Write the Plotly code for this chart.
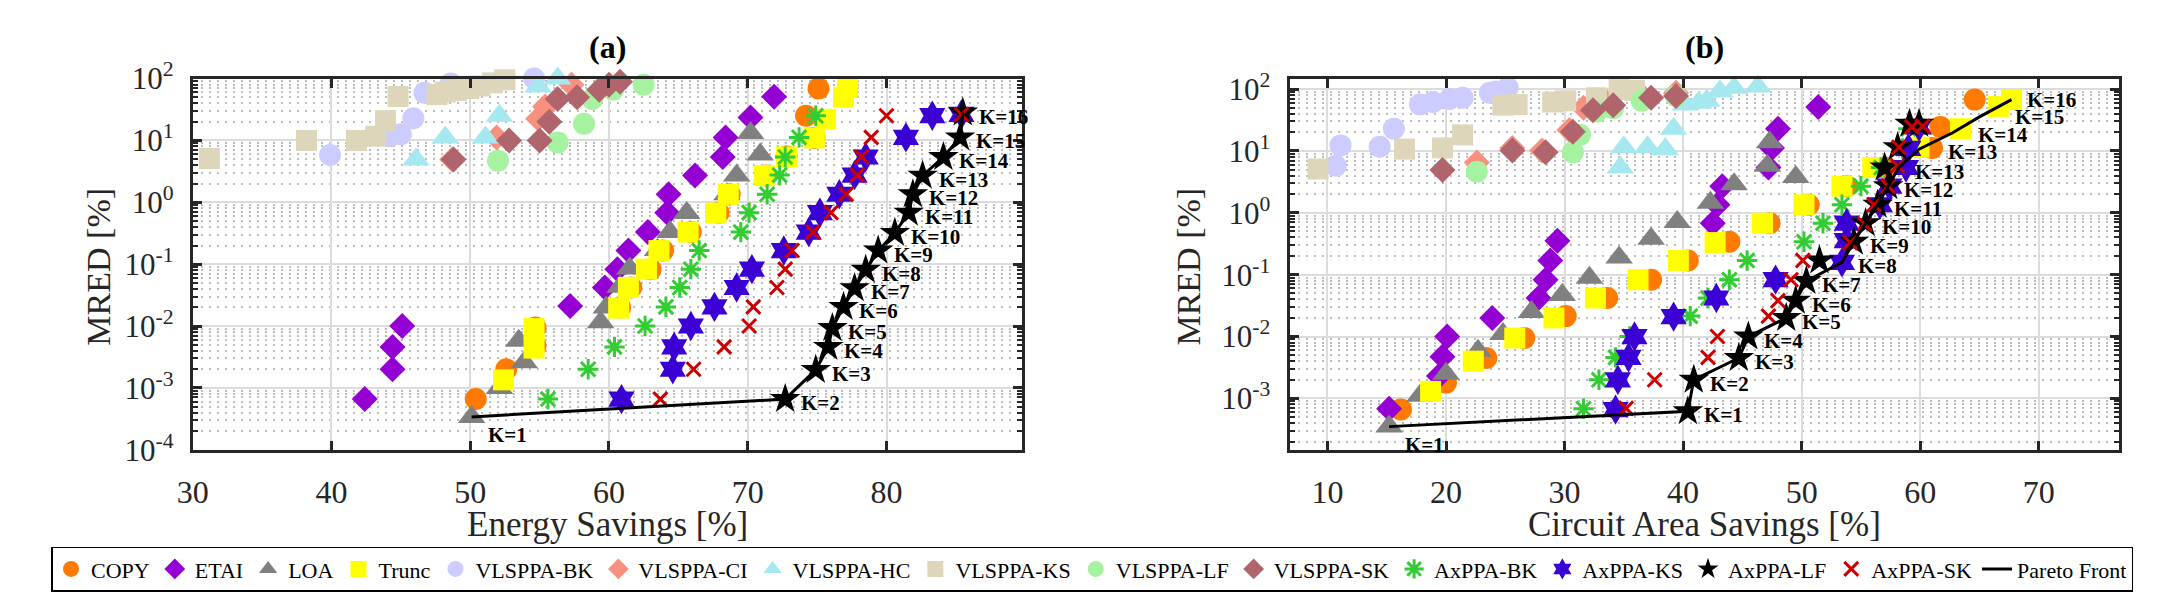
import numpy as np
import plotly.graph_objects as go

# ================= DATA : panel (a)  Energy Savings [%] vs MRED [%] =================
COPY_a_x = [50.4, 52.6, 54.7, 54.7, 60.8, 61.6, 63.0, 63.9, 65.9, 67.9, 68.7, 71.3, 72.8, 74.8, 74.2, 75.1]
COPY_a_y = [6.6e-4, 2.0e-3, 4.8e-3, 9.5e-3, 0.020, 0.042, 0.083, 0.166, 0.33, 0.68, 1.35, 2.7, 5.5, 11.0, 25.0, 69.0]
ETAI_a_x = [42.4, 44.4, 44.4, 45.1, 57.2, 59.7, 60.6, 61.4, 62.8, 64.2, 64.3, 66.2, 68.2, 68.4, 70.2, 71.9]
ETAI_a_y = [6.6e-4, 2.0e-3, 4.6e-3, 0.010, 0.021, 0.042, 0.083, 0.166, 0.33, 0.68, 1.35, 2.7, 5.4, 11.2, 23.4, 51.0]
LOA_a_x = [50.1, 52.1, 53.9, 53.5, 59.4, 59.8, 60.8, 61.5, 63.5, 64.4, 65.6, 68.5, 69.2, 70.9, 70.2]
LOA_a_y = [3.4e-4, 1.0e-3, 2.6e-3, 5.8e-3, 0.0115, 0.020, 0.043, 0.085, 0.17, 0.33, 0.67, 1.35, 2.7, 5.9, 13.2]
TRUNC_a_x = [52.4, 54.6, 54.6, 60.7, 61.4, 62.7, 63.6, 65.7, 67.7, 68.6, 71.2, 72.8, 74.8, 75.6, 76.9, 77.2]
TRUNC_a_y = [1.35e-3, 4.4e-3, 9.1e-3, 0.0195, 0.042, 0.083, 0.166, 0.33, 0.67, 1.35, 2.7, 5.4, 11.0, 22.0, 50.0, 73.0]
VBK_a_x = [39.9, 44.2, 45.0, 45.9, 46.7, 48.6, 52.1, 54.6]
VBK_a_y = [5.8, 11.7, 12.6, 22.9, 58.9, 83.2, 112.0, 100.0]
VCI_a_x = [48.7, 51.9, 54.9, 55.4, 57.3, 59.9, 62.0]
VCI_a_y = [4.9, 11.2, 22.4, 35.5, 79.4, 112.0, 104.7]
VHC_a_x = [46.1, 48.2, 51.1, 52.1, 54.9, 56.3, 59.9, 63.3]
VHC_a_y = [4.9, 11.2, 11.2, 25.1, 74.1, 100.0, 104.7, 104.7]
VKS_a_x = [31.2, 38.2, 41.8, 43.2, 43.9, 44.8, 47.6, 48.2, 49.0, 49.9, 50.7, 51.6, 52.5]
VKS_a_y = [5.1, 10.0, 10.0, 11.7, 20.9, 51.3, 55.0, 60.3, 64.6, 69.2, 75.9, 85.1, 95.5]
VLF_a_x = [52.0, 56.3, 58.2, 58.8, 60.3, 62.5]
VLF_a_y = [4.7, 9.3, 18.6, 46.8, 66.0, 79.4]
VSK_a_x = [48.8, 52.8, 55.0, 55.7, 56.3, 57.7, 59.3, 60.0, 60.8]
VSK_a_y = [4.9, 10.0, 10.0, 20.0, 46.8, 50.0, 66.0, 79.4, 89.1]
AXBK_a_x = [55.6, 58.5, 60.4, 62.6, 64.1, 65.1, 65.9, 66.5, 69.5, 70.1, 71.4, 72.3, 72.7, 73.7, 74.9]
AXBK_a_y = [6.6e-4, 2.0e-3, 4.6e-3, 0.010, 0.0204, 0.042, 0.083, 0.166, 0.33, 0.68, 1.35, 2.75, 5.4, 11.2, 25.1]
AXKS_a_x = [60.9, 64.6, 64.7, 65.9, 67.6, 69.2, 70.3, 72.6, 74.4, 75.2, 76.6, 77.7, 78.5, 81.4, 83.3, 85.4]
AXKS_a_y = [6.6e-4, 2.0e-3, 4.6e-3, 0.010, 0.0204, 0.042, 0.083, 0.166, 0.33, 0.68, 1.35, 2.75, 5.4, 11.2, 25.1, 26.3]
AXLF_a_x = [72.7, 74.9, 75.8, 76.1, 76.9, 77.7, 78.5, 79.4, 80.6, 81.6, 81.9, 82.6, 84.1, 85.3, 85.5]
AXLF_a_y = [6.6e-4, 1.95e-3, 4.6e-3, 9.3e-3, 0.0204, 0.041, 0.081, 0.166, 0.32, 0.68, 1.35, 2.7, 5.4, 11.2, 28.2]
AXSK_a_x = [63.7, 66.1, 68.3, 70.1, 70.4, 72.1, 72.7, 73.2, 74.7, 76.0, 77.1, 77.9, 78.2, 78.9, 80.0, 85.4]
AXSK_a_y = [6.6e-4, 2.0e-3, 4.6e-3, 0.010, 0.0204, 0.042, 0.083, 0.166, 0.33, 0.68, 1.35, 2.75, 5.4, 11.2, 25.1, 26.3]
PARETO_a_x = [50.1, 72.7, 74.9, 75.8, 76.1, 76.9, 77.7, 78.5, 79.4, 80.6, 81.6, 81.9, 82.6, 84.1, 85.3, 85.5]
PARETO_a_y = [3.4e-4, 6.6e-4, 1.95e-3, 4.6e-3, 9.3e-3, 0.0204, 0.041, 0.081, 0.166, 0.32, 0.68, 1.35, 2.7, 5.4, 11.2, 28.2]
PARETO_a_k = ["K=1", "K=2", "K=3", "K=4", "K=5", "K=6", "K=7", "K=8", "K=9", "K=10",
              "K=11", "K=12", "K=13", "K=14", "K=15", "K=16"]

# ================= DATA : panel (b)  Circuit Area Savings [%] vs MRED [%] =================
COPY_b_x = [16.2, 20.0, 23.4, 26.6, 30.1, 33.6, 37.3, 40.4, 43.9, 47.3, 50.6, 53.8, 57.0, 61.0, 61.7, 64.6]
COPY_b_y = [6.6e-4, 1.8e-3, 4.5e-3, 9.5e-3, 0.0214, 0.042, 0.083, 0.17, 0.34, 0.68, 1.35, 2.7, 5.4, 11.2, 24.5, 67.6]
ETAI_b_x = [15.2, 19.4, 19.7, 20.1, 23.9, 27.8, 28.4, 28.8, 29.4, 42.5, 42.9, 43.3, 47.2, 47.5, 48.0, 51.4]
ETAI_b_y = [6.8e-4, 2.3e-3, 4.7e-3, 0.010, 0.020, 0.042, 0.083, 0.17, 0.355, 0.68, 1.35, 2.7, 5.4, 11.2, 22.9, 51.3]
LOA_b_x = [15.2, 17.8, 20.0, 22.7, 24.8, 27.2, 29.8, 32.1, 34.6, 37.3, 39.5, 42.3, 44.3, 49.5, 47.1, 47.3]
LOA_b_y = [3.5e-4, 1.1e-3, 2.5e-3, 5.9e-3, 0.011, 0.025, 0.047, 0.089, 0.19, 0.38, 0.71, 1.45, 2.9, 3.8, 5.75, 13.8]
TRUNC_b_x = [18.7, 22.3, 25.8, 29.1, 32.6, 36.2, 39.6, 42.7, 46.7, 50.2, 53.4, 56.0, 59.9, 63.4, 66.6, 67.7]
TRUNC_b_y = [1.3e-3, 4.0e-3, 9.5e-3, 0.020, 0.042, 0.083, 0.17, 0.33, 0.68, 1.35, 2.7, 5.4, 11.5, 22.9, 52.5, 67.6]
VBK_b_x = [10.7, 11.1, 14.4, 15.6, 17.8, 18.9, 20.3, 21.4, 23.7, 24.2, 25.2]
VBK_b_y = [5.75, 12.3, 11.7, 22.9, 56.2, 61.7, 69.2, 72.4, 87.1, 91.2, 104.7]
VCI_b_x = [22.6, 25.6, 28.1, 30.4, 31.6, 33.6, 36.6, 39.4]
VCI_b_y = [6.5, 11.2, 10.2, 21.9, 50.0, 60.3, 75.9, 87.1]
VHC_b_x = [34.7, 35.0, 37.0, 38.5, 39.2, 40.2, 41.3, 42.0, 43.1, 44.3, 46.3]
VHC_b_y = [5.4, 11.5, 11.5, 10.7, 22.9, 56.2, 60.3, 64.6, 91.2, 104.7, 109.6]
VKS_b_x = [9.2, 16.5, 19.7, 21.4, 24.8, 26.0, 29.0, 30.1, 32.7, 34.6, 35.9]
VKS_b_y = [5.1, 10.7, 11.2, 18.2, 55.0, 56.2, 61.7, 64.6, 72.4, 97.7, 95.5]
VLF_b_x = [22.6, 30.7, 31.3, 32.7, 34.1, 36.5, 39.4]
VLF_b_y = [4.6, 9.5, 18.2, 43.6, 49.0, 64.6, 77.6]
VSK_b_x = [19.7, 25.6, 28.4, 30.7, 32.4, 34.1, 37.3, 39.4]
VSK_b_y = [4.9, 10.2, 9.5, 20.4, 45.7, 55.0, 72.4, 77.6]
AXBK_b_x = [31.6, 32.9, 34.3, 35.5, 40.6, 42.1, 43.9, 45.4, 50.2, 51.8, 53.4, 55.0, 56.7, 58.5, 59.0]
AXBK_b_y = [6.8e-4, 2.0e-3, 4.6e-3, 0.010, 0.0214, 0.042, 0.083, 0.17, 0.34, 0.68, 1.35, 2.7, 5.4, 11.0, 22.9]
AXKS_b_x = [34.3, 34.5, 35.4, 35.9, 39.2, 42.8, 47.8, 53.4, 53.8, 53.8, 56.6, 57.4, 58.8, 59.0, 59.9]
AXKS_b_y = [6.6e-4, 2.0e-3, 4.6e-3, 0.010, 0.021, 0.042, 0.083, 0.158, 0.355, 0.68, 1.35, 2.7, 5.4, 11.0, 24.5]
AXLF_b_x = [40.4, 40.9, 44.7, 45.5, 48.7, 49.5, 50.4, 51.5, 54.4, 55.4, 56.4, 57.3, 57.0, 58.1, 59.1, 59.9]
AXLF_b_y = [6.2e-4, 2.0e-3, 4.5e-3, 0.010, 0.020, 0.038, 0.079, 0.17, 0.34, 0.68, 1.35, 2.7, 5.4, 11.5, 27.5, 27.5]
AXSK_b_x = [35.2, 37.6, 42.1, 42.9, 47.2, 48.0, 49.1, 50.1, 54.1, 55.3, 56.1, 57.3, 58.1, 58.2, 59.3, 60.2]
AXSK_b_y = [6.9e-4, 2.0e-3, 4.6e-3, 0.010, 0.0214, 0.038, 0.083, 0.17, 0.33, 0.66, 1.35, 2.7, 5.75, 11.5, 24.5, 25.1]
PARETO_b_x = [15.2, 40.4, 40.9, 44.7, 45.5, 48.7, 49.5, 50.4, 53.4, 54.4, 55.4, 56.4, 57.3, 58.2, 59.9, 62.7, 65.0, 67.7]
PARETO_b_y = [3.5e-4, 6.2e-4, 2.0e-3, 4.5e-3, 0.010, 0.020, 0.038, 0.079, 0.158, 0.34, 0.68, 1.35, 2.7, 5.4, 10.7, 19.5, 35.5, 67.6]
PARETO_b_k = ["K=1", "K=1", "K=2", "K=3", "K=4", "K=5", "K=6", "K=7", "K=8", "K=9", "K=10",
              "K=11", "K=12", "K=13", "K=13", "K=14", "K=15", "K=16"]

SERIES = ["COPY", "ETAI", "LOA", "Trunc", "VLSPPA-BK", "VLSPPA-CI", "VLSPPA-HC", "VLSPPA-KS",
          "VLSPPA-LF", "VLSPPA-SK", "AxPPA-BK", "AxPPA-KS", "AxPPA-LF", "AxPPA-SK"]
DATA_A = [(COPY_a_x, COPY_a_y), (ETAI_a_x, ETAI_a_y), (LOA_a_x, LOA_a_y), (TRUNC_a_x, TRUNC_a_y),
          (VBK_a_x, VBK_a_y), (VCI_a_x, VCI_a_y), (VHC_a_x, VHC_a_y), (VKS_a_x, VKS_a_y),
          (VLF_a_x, VLF_a_y), (VSK_a_x, VSK_a_y), (AXBK_a_x, AXBK_a_y), (AXKS_a_x, AXKS_a_y),
          (AXLF_a_x, AXLF_a_y), (AXSK_a_x, AXSK_a_y)]
DATA_B = [(COPY_b_x, COPY_b_y), (ETAI_b_x, ETAI_b_y), (LOA_b_x, LOA_b_y), (TRUNC_b_x, TRUNC_b_y),
          (VBK_b_x, VBK_b_y), (VCI_b_x, VCI_b_y), (VHC_b_x, VHC_b_y), (VKS_b_x, VKS_b_y),
          (VLF_b_x, VLF_b_y), (VSK_b_x, VSK_b_y), (AXBK_b_x, AXBK_b_y), (AXKS_b_x, AXKS_b_y),
          (AXLF_b_x, AXLF_b_y), (AXSK_b_x, AXSK_b_y)]

# ================= STYLE =================
FONT = "Liberation Serif"
AXC = "#262626"
STYLE = {
    "COPY":      dict(symbol="circle", color="#FF7A00", size=22),
    "ETAI":      dict(symbol="diamond", color="#9400D3", size=20),
    "LOA":       dict(symbol="triangle-up", color="#808080", size=24),
    "Trunc":     dict(symbol="square", color="#FFFF00", size=21),
    "VLSPPA-BK": dict(symbol="circle", color="#CCCCFF", size=22),
    "VLSPPA-CI": dict(symbol="diamond", color="#F8907F", size=20),
    "VLSPPA-HC": dict(symbol="triangle-up", color="#A6E8F0", size=24),
    "VLSPPA-KS": dict(symbol="square", color="#DDD6BA", size=21),
    "VLSPPA-LF": dict(symbol="circle", color="#A6F2A0", size=22),
    "VLSPPA-SK": dict(symbol="diamond", color="#B0646C", size=20),
    "AxPPA-BK":  dict(symbol="asterisk-open", color="#33CC33", size=17, lw=3),
    "AxPPA-KS":  dict(symbol="hexagram", color="#3A00D4", size=23),
    "AxPPA-LF":  dict(symbol="star", color="#000000", size=23),
    "AxPPA-SK":  dict(symbol="x-thin-open", color="#CC0000", size=14, lw=3),
}
LABEL_SHIFT_A = [(14, -18)] + [(14, -4)] * 15
LABEL_SHIFT_B = [(14, -18)] + [(14, -4)] * 13 + [(27, -3), (24, -2), (34, 0), (14, 0)]

XDOM_A = [178 / 2168, 1013 / 2168]
XDOM_B = [1283 / 2168, 2119 / 2168]
YDOM = [1 - 458 / 611, 1 - 61.5 / 611]

fig = go.Figure()


def add_panel(data, xa, ya, show_legend):
    for name, (xs, ys) in zip(SERIES, data):
        st = STYLE[name]
        lw = st.get("lw", 0)
        marker = dict(symbol=st["symbol"], size=st["size"], color=st["color"],
                      line=dict(width=lw, color=st["color"]))
        fig.add_trace(go.Scatter(x=xs, y=ys, mode="markers", name=name, marker=marker,
                                 xaxis=xa, yaxis=ya, legendgroup=name, showlegend=show_legend,
                                 cliponaxis=False))


add_panel(DATA_A, "x", "y", True)
add_panel(DATA_B, "x2", "y2", False)

fig.add_trace(go.Scatter(x=PARETO_a_x, y=PARETO_a_y, mode="lines", name="Pareto Front",
                         line=dict(color="black", width=3), xaxis="x", yaxis="y",
                         legendgroup="pf", cliponaxis=False))
fig.add_trace(go.Scatter(x=PARETO_b_x, y=PARETO_b_y, mode="lines", name="Pareto Front",
                         line=dict(color="black", width=3), xaxis="x2", yaxis="y2",
                         legendgroup="pf", showlegend=False, cliponaxis=False))

annotations = []
for xs, ys, ks, shifts, xr, yr in [(PARETO_a_x, PARETO_a_y, PARETO_a_k, LABEL_SHIFT_A, "x", "y"),
                                   (PARETO_b_x, PARETO_b_y, PARETO_b_k, LABEL_SHIFT_B, "x2", "y2")]:
    for xv, yv, k, (dx, dy) in zip(xs, ys, ks, shifts):
        annotations.append(dict(x=xv, y=float(np.log10(yv)), xref=xr, yref=yr, text="<b>%s</b>" % k,
                                showarrow=False, xanchor="left", yanchor="middle",
                                xshift=dx, yshift=dy, height=18,
                                font=dict(family=FONT, size=21, color="black")))

cx_a = (XDOM_A[0] + XDOM_A[1]) / 2
cx_b = (XDOM_B[0] + XDOM_B[1]) / 2
for txt, xx in [("<b>(a)</b>", cx_a), ("<b>(b)</b>", cx_b)]:
    annotations.append(dict(x=xx, y=1 - 28 / 611, xref="paper", yref="paper", text=txt,
                            showarrow=False, xanchor="center", yanchor="middle",
                            font=dict(family=FONT, size=32, color="black")))
for txt, xx in [("Energy Savings [%]", cx_a), ("Circuit Area Savings [%]", cx_b)]:
    annotations.append(dict(x=xx, y=1 - 538 / 611, xref="paper", yref="paper", text=txt,
                            showarrow=False, xanchor="center", yanchor="middle",
                            font=dict(family=FONT, size=35, color=AXC)))
for xx in [83 / 2168, 1181 / 2168]:
    annotations.append(dict(x=xx, y=1 - 262 / 611, xref="paper", yref="paper", text="MRED [%]",
                            showarrow=False, xanchor="center", yanchor="middle", textangle=-90,
                            font=dict(family=FONT, size=34, color=AXC)))

YTICKS = [1e-4, 1e-3, 1e-2, 1e-1, 1e0, 1e1, 1e2]
YTICKTEXT = ["10<sup>-4</sup>", "10<sup>-3</sup>", "10<sup>-2</sup>", "10<sup>-1</sup>",
             "10<sup>0</sup>", "10<sup>1</sup>", "10<sup>2</sup>"]
YMINOR = [m * 10.0 ** e for e in range(-5, 3) for m in range(2, 10)]

common = dict(showline=True, linecolor=AXC, linewidth=3, mirror="ticks", ticks="inside",
              ticklen=9, tickwidth=2.5, tickcolor=AXC, showgrid=True, gridcolor="#DCDCDC",
              gridwidth=1.5, zeroline=False)
xcommon = dict(common, tickfont=dict(family=FONT, size=32, color=AXC), ticklabelstandoff=12,
               dtick=10, tick0=0)
ycommon = dict(common, type="log", tickvals=YTICKS, ticktext=YTICKTEXT,
               tickfont=dict(family=FONT, size=31, color=AXC), ticklabelstandoff=10,
               minor=dict(tickvals=YMINOR, ticks="inside", ticklen=5, tickwidth=2, tickcolor=AXC,
                          showgrid=True, gridcolor="#BDBDBD", griddash="2px,6px", gridwidth=2))

fig.update_layout(
    width=2168, height=611, margin=dict(l=0, r=0, t=0, b=0),
    paper_bgcolor="white", plot_bgcolor="white",
    font=dict(family=FONT, color="black"),
    xaxis=dict(xcommon, domain=XDOM_A, range=[30, 89.73], anchor="y"),
    yaxis=dict(ycommon, domain=YDOM, range=[-4, 2], anchor="x"),
    xaxis2=dict(xcommon, domain=XDOM_B, range=[6.8, 76.8], anchor="y2"),
    yaxis2=dict(ycommon, domain=YDOM, range=[-3.83, 2.17], anchor="x2"),
    annotations=annotations,
    showlegend=True,
    legend=dict(orientation="h", x=0.5, xanchor="center", y=1 - 585.5 / 611, yanchor="middle",
                bordercolor="black", borderwidth=1.5, bgcolor="white",
                font=dict(family=FONT, size=22, color="black"), itemwidth=30,
                tracegroupgap=0),
)

fig.write_html("out.html", config={"displayModeBar": False},
               post_script="document.body.style.margin='0';")
